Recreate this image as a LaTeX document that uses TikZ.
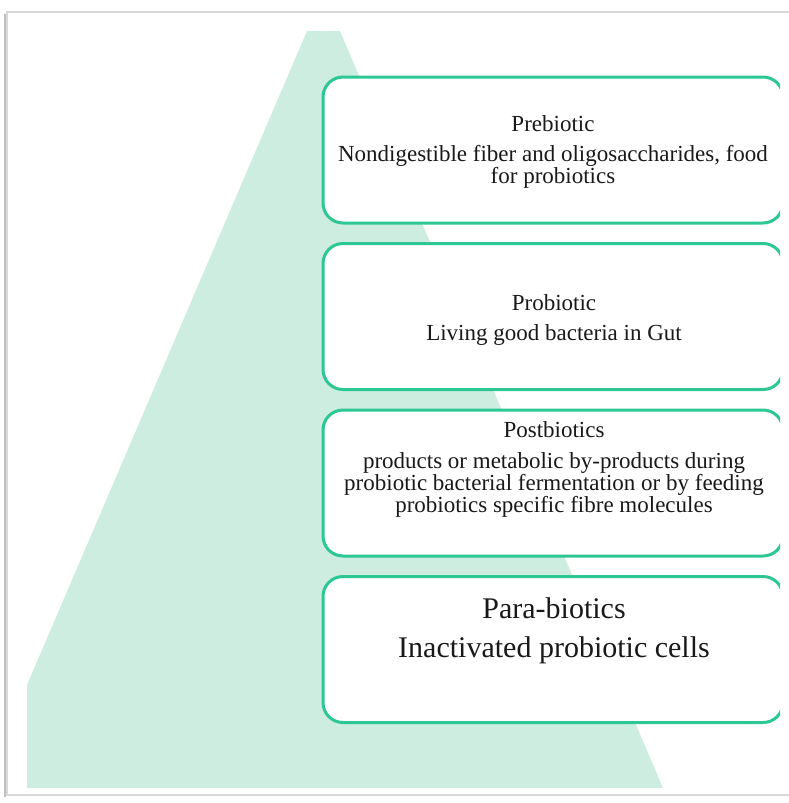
\documentclass[tikz,border=0pt]{standalone}
\usepackage{fontspec}
\setmainfont{Liberation Serif}
\usetikzlibrary{positioning}
\definecolor{mint}{RGB}{204,237,223}
\definecolor{boxline}{RGB}{44,199,148}
\tikzstyle{stage} = [rectangle, rounded corners=20pt, minimum width=460pt, minimum height=146pt, outer sep=0pt, draw=boxline, line width=3pt, fill=white]
\tikzstyle{headtext} = [font=\fontsize{23}{22}\selectfont, anchor=base, inner sep=0pt, text=black!90]
\tikzstyle{bodytext} = [font=\fontsize{23}{22}\selectfont, align=center, anchor=north, inner sep=0pt, text=black!90]
\tikzstyle{bigtext} = [font=\fontsize{30}{36}\selectfont, anchor=base, inner sep=0pt, text=black!90]

\begin{document}
\begin{tikzpicture}[x=1pt, y=-1pt]
  \useasboundingbox (0,0) rectangle (789,803);
  % frame of the picture
  \draw[gray!30, line width=1.5pt] (789,12) -- (7,12) -- (7,795) -- (789,795);
  \draw[gray!50, line width=2pt] (5,14) -- (5,797);
  % pyramid
  \fill[mint] (307,31) -- (340,31) -- (663,788) -- (27,788) -- (27,685) -- cycle;
  % boxes
  \begin{scope}
    \clip (0,0) rectangle (780,803);
    \node (pre)[stage, anchor=north west] at (323,77) {};
    \node (pro)[stage, below=20.5pt of pre] {};
    \node (post)[stage, below=20.5pt of pro] {};
    \node (para)[stage, below=20.5pt of post] {};
  \end{scope}
  % texts
  \node (pretitle)[headtext] at (553,131) {Prebiotic};
  \node (prebody)[bodytext] at (553,145) {Nondigestible fiber and oligosaccharides, food\\for probiotics};
  \node (protitle)[headtext] at (554,310) {Probiotic};
  \node (probody)[headtext] at (554,340) {Living good bacteria in Gut};
  \node (posttitle)[headtext] at (554,437) {Postbiotics};
  \node (postbody)[bodytext] at (554,452) {products or metabolic by-products during\\probiotic bacterial fermentation or by feeding\\probiotics specific fibre molecules};
  \node (paratitle)[bigtext] at (554,618) {Para-biotics};
  \node (parabody)[bigtext] at (554,657) {Inactivated probiotic cells};
\end{tikzpicture}
\end{document}
